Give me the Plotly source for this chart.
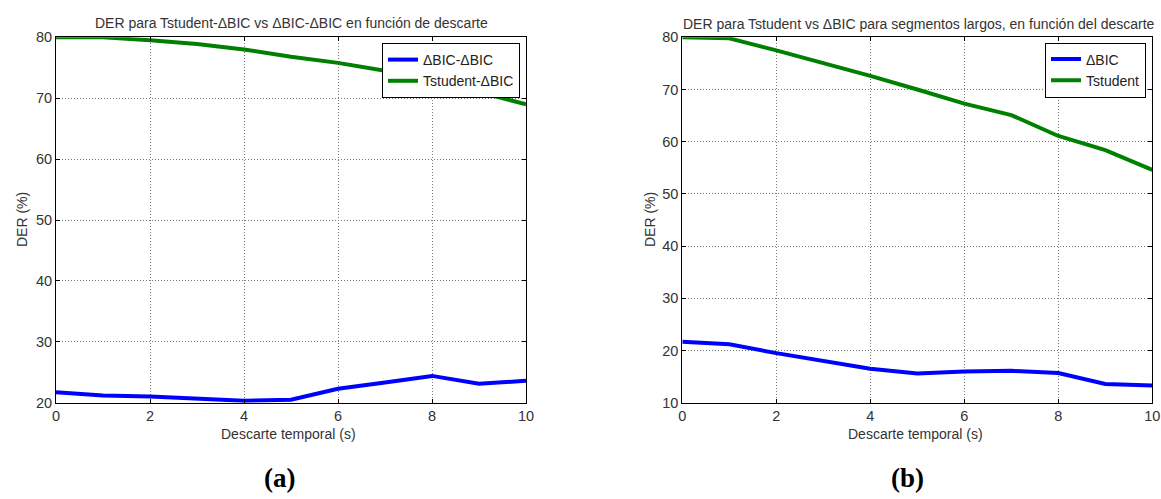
import plotly.graph_objects as go

# Descarte temporal (s)
descarte = [0, 1, 2, 3, 4, 5, 6, 7, 8, 9, 10]

# (a) DER (%) en función del descarte
der_a_bic_bic = [21.7, 21.2, 21.0, 20.6, 20.3, 20.5, 22.3, 23.3, 24.4, 23.1, 23.6]
der_a_tstudent_bic = [80.0, 80.0, 79.5, 78.9, 78.0, 76.8, 75.8, 74.5, 72.8, 71.0, 69.0]

# (b) DER (%) para segmentos largos
der_b_bic = [21.7, 21.2, 19.5, 18.0, 16.5, 15.6, 16.0, 16.1, 15.7, 13.6, 13.3]
der_b_tstudent = [80.0, 79.8, 77.5, 75.1, 72.6, 70.0, 67.3, 65.1, 61.1, 58.4, 54.6]

titulo_a = "DER para Tstudent-ΔBIC vs ΔBIC-ΔBIC en función de descarte"
titulo_b = "DER para Tstudent vs ΔBIC para segmentos largos, en función del descarte"
eje_x = "Descarte temporal (s)"
eje_y = "DER (%)"

AZUL = "rgb(0,0,255)"
VERDE = "rgb(0,128,0)"
FUENTE = "Liberation Sans, Arial, sans-serif"
W, H = 1161, 499

# Posición de los ejes en píxeles de la página
TOP, BOTTOM = 37.3, 402.7
A_LEFT, A_RIGHT = 56.0, 526.0
B_LEFT, B_RIGHT = 682.3, 1152.3


def px(x):
    return x / W


def py(y):
    return (H - y) / H


fig = go.Figure()

fig.add_trace(go.Scatter(x=descarte, y=der_a_bic_bic, mode="lines", name="ΔBIC-ΔBIC",
                         line=dict(color=AZUL, width=4), xaxis="x", yaxis="y", legend="legend"))
fig.add_trace(go.Scatter(x=descarte, y=der_a_tstudent_bic, mode="lines", name="Tstudent-ΔBIC",
                         line=dict(color=VERDE, width=4), xaxis="x", yaxis="y", legend="legend"))
fig.add_trace(go.Scatter(x=descarte, y=der_b_bic, mode="lines", name="ΔBIC",
                         line=dict(color=AZUL, width=4), xaxis="x2", yaxis="y2", legend="legend2"))
fig.add_trace(go.Scatter(x=descarte, y=der_b_tstudent, mode="lines", name="Tstudent",
                         line=dict(color=VERDE, width=4), xaxis="x2", yaxis="y2", legend="legend2"))

tick_font = dict(family=FUENTE, size=14.5, color="#333")
eje = dict(showline=True, linecolor="black", linewidth=1, mirror="ticks",
           ticks="inside", ticklen=4, tickcolor="black", automargin=False,
           showgrid=True, gridcolor="#777", griddash="1px,2px", gridwidth=1,
           zeroline=False, tickfont=tick_font)

y_dom = [py(BOTTOM), py(TOP)]
txt_font = dict(family=FUENTE, size=14, color="#333")
leg_font = dict(family=FUENTE, size=14, color="#222")

fig.update_layout(
    width=W, height=H,
    template="none",
    margin=dict(l=0, r=0, t=0, b=0),
    paper_bgcolor="white", plot_bgcolor="white",
    font=dict(family=FUENTE, size=14, color="#333"),
    xaxis=dict(domain=[px(A_LEFT), px(A_RIGHT)], range=[0, 10], dtick=2, anchor="y", **eje),
    yaxis=dict(domain=y_dom, range=[20, 80], dtick=10, anchor="x", **eje),
    xaxis2=dict(domain=[px(B_LEFT), px(B_RIGHT)], range=[0, 10], dtick=2, anchor="y2", **eje),
    yaxis2=dict(domain=y_dom, range=[10, 80], dtick=10, anchor="x2", **eje),
    legend=dict(x=px(520), y=py(43), xanchor="right", yanchor="top",
                bgcolor="white", bordercolor="black", borderwidth=1,
                font=leg_font, tracegroupgap=0),
    legend2=dict(x=px(1146), y=py(42.5), xanchor="right", yanchor="top",
                 bgcolor="white", bordercolor="black", borderwidth=1,
                 font=leg_font, tracegroupgap=0),
    showlegend=True,
)

comun = dict(xref="paper", yref="paper", showarrow=False, xanchor="center", yanchor="middle")

# Títulos
fig.add_annotation(text=titulo_a, x=px(291), y=py(23.5), font=txt_font, **comun)
fig.add_annotation(text=titulo_b, x=px(919), y=py(24), font=txt_font, **comun)

# Rótulos de los ejes
fig.add_annotation(text=eje_x, x=px(288), y=py(433.5), font=txt_font, **comun)
fig.add_annotation(text=eje_x, x=px(916), y=py(433.5), font=txt_font, **comun)
fig.add_annotation(text=eje_y, x=px(22), y=py(220), textangle=-90, font=txt_font, **comun)
fig.add_annotation(text=eje_y, x=px(650), y=py(220), textangle=-90, font=txt_font, **comun)

# Etiquetas de subfigura
serif = dict(family="Liberation Serif, Times New Roman, serif", size=27, color="black")
fig.add_annotation(text="<b>(a)</b>", x=px(279), y=py(478), font=serif, **comun)
fig.add_annotation(text="<b>(b)</b>", x=px(907.5), y=py(478), font=serif, **comun)

fig.write_html("out.html")
